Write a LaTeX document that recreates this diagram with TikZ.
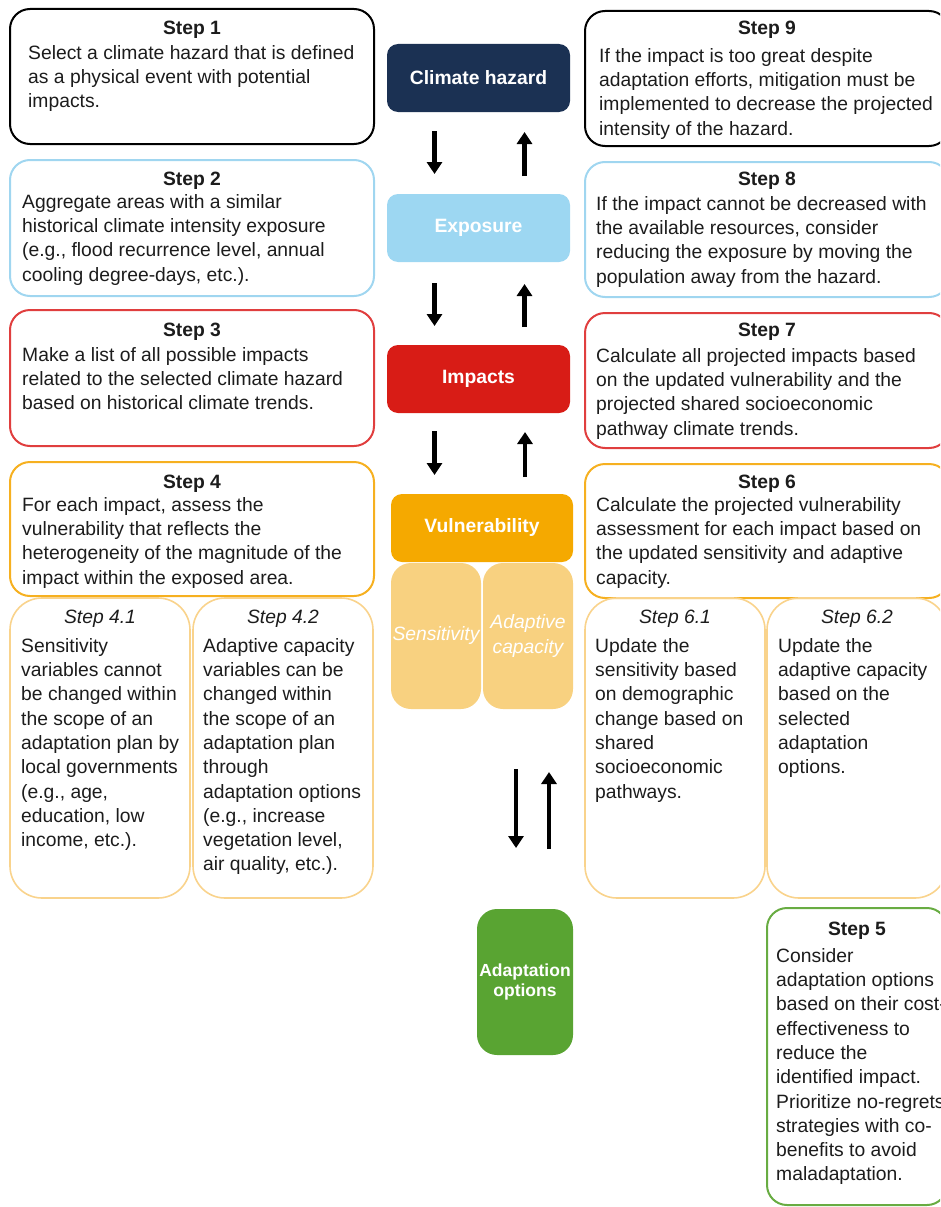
\documentclass[tikz,border=0pt]{standalone}
\usepackage{fontspec}
\setmainfont{Liberation Sans}
\usetikzlibrary{arrows.meta,calc}

\definecolor{hazardblue}{RGB}{27,49,83}
\definecolor{exposureblue}{RGB}{157,215,242}
\definecolor{impactred}{RGB}{216,28,22}
\definecolor{vulnorange}{RGB}{245,169,0}
\definecolor{capacityorange}{RGB}{248,209,128}
\definecolor{optiongreen}{RGB}{89,164,50}
\definecolor{bodytext}{RGB}{28,28,28}
\definecolor{edgeblue}{RGB}{160,214,240}
\definecolor{edgered}{RGB}{224,62,62}
\definecolor{edgeorange}{RGB}{246,176,32}
\definecolor{edgelight}{RGB}{249,211,140}
\definecolor{edgegreen}{RGB}{104,172,66}

\newcommand\bodysize{\fontsize{19.3}{24.3}\selectfont}

\tikzset{
	stepbox/.style={draw=#1, line width=2pt, rounded corners=20pt, anchor=north west, inner sep=0pt, outer sep=0pt},
	subbox/.style={draw=#1, line width=1.6pt, rounded corners=32pt, anchor=north west, inner sep=0pt, outer sep=0pt, minimum width=180pt, minimum height=300pt},
	steptitle/.style={anchor=base, inner sep=0pt, font=\bodysize\bfseries, text=bodytext},
	subtitle/.style={anchor=base, inner sep=0pt, font=\bodysize\itshape, text=bodytext},
	body/.style={anchor=north west, align=left, inner sep=0pt, font=\bodysize, text=bodytext},
	hub/.style={fill=#1, rounded corners=11pt, text=white, font=\bodysize\bfseries, inner sep=0pt, outer sep=0pt},
	part/.style={fill=capacityorange, rounded corners=20pt, text=white, font=\bodysize\itshape, align=center, inner sep=0pt, outer sep=0pt, minimum width=90pt, minimum height=146pt},
	flow/.style={line width=4.5pt, -{Triangle[width=15pt,length=12pt]}},
}

\begin{document}
\begin{tikzpicture}[x=1pt, y=-1pt]
	\useasboundingbox (0,0) rectangle (940,1207);
	\clip (0,0) rectangle (940,1207);
	
	\node[stepbox=black, minimum width=364pt, minimum height=135pt] (step1) at (10,9) {};
	\node[steptitle] (step1t) at (192,35) {Step 1};
	\node[body] (step1b) at (28,42) {\strut Select a climate hazard that is defined\\as a physical event with potential\\impacts.};
	
	\node[stepbox=edgeblue, minimum width=364pt, minimum height=136pt] (step2) at (10,160) {};
	\node[steptitle] (step2t) at (192,185) {Step 2};
	\node[body] (step2b) at (22,191) {\strut Aggregate areas with a similar\\historical climate intensity exposure\\(e.g., flood recurrence level, annual\\cooling degree-days, etc.).};
	
	\node[stepbox=edgered, minimum width=364pt, minimum height=136pt] (step3) at (10,310) {};
	\node[steptitle] (step3t) at (192,336) {Step 3};
	\node[body] (step3b) at (22,344) {\strut Make a list of all possible impacts\\related to the selected climate hazard\\based on historical climate trends.};
	
	\node[stepbox=edgeorange, minimum width=364pt, minimum height=134pt] (step4) at (10,462) {};
	\node[steptitle] (step4t) at (192,488) {Step 4};
	\node[body] (step4b) at (22,494) {\strut For each impact, assess the\\vulnerability that reflects the\\heterogeneity of the magnitude of the\\impact within the exposed area.};
	
	\node[subbox=edgelight] (step41) at (10,598) {};
	\node[subtitle] (step41t) at (100,623) {Step 4.1};
	\node[body] (step41b) at (21,635) {\strut Sensitivity\\variables cannot\\be changed within\\the scope of an\\adaptation plan by\\local governments\\(e.g., age,\\education, low\\income, etc.).};
	
	\node[subbox=edgelight] (step42) at (193,598) {};
	\node[subtitle] (step42t) at (283,623) {Step 4.2};
	\node[body] (step42b) at (203,635) {\strut Adaptive capacity\\variables can be\\changed within\\the scope of an\\adaptation plan\\through\\adaptation options\\(e.g., increase\\vegetation level,\\air quality, etc.).};
	
	\node[stepbox=black, minimum width=364pt, minimum height=135pt] (step9) at (585,11) {};
	\node[steptitle] (step9t) at (767,35) {Step 9};
	\node[body] (step9b) at (599,45) {\strut If the impact is too great despite\\adaptation efforts, mitigation must be\\implemented to decrease the projected\\intensity of the hazard.};
	
	\node[stepbox=edgeblue, minimum width=364pt, minimum height=135pt] (step8) at (585,162) {};
	\node[steptitle] (step8t) at (767,185) {Step 8};
	\node[body] (step8b) at (596,193) {\strut If the impact cannot be decreased with\\the available resources, consider\\reducing the exposure by moving the\\population away from the hazard.};
	
	\node[stepbox=edgered, minimum width=364pt, minimum height=135pt] (step7) at (585,313) {};
	\node[steptitle] (step7t) at (767,336) {Step 7};
	\node[body] (step7b) at (596,345) {\strut Calculate all projected impacts based\\on the updated vulnerability and the\\projected shared socioeconomic\\pathway climate trends.};
	
	\node[stepbox=edgeorange, minimum width=364pt, minimum height=134pt] (step6) at (585,464) {};
	\node[steptitle] (step6t) at (767,488) {Step 6};
	\node[body] (step6b) at (596,494) {\strut Calculate the projected vulnerability\\assessment for each impact based on\\the updated sensitivity and adaptive\\capacity.};
	
	\node[subbox=edgelight] (step61) at (585,598) {};
	\node[subtitle] (step61t) at (675,623) {Step 6.1};
	\node[body] (step61b) at (595,635) {\strut Update the\\sensitivity based\\on demographic\\change based on\\shared\\socioeconomic\\pathways.};
	
	\node[subbox=edgelight] (step62) at (767,598) {};
	\node[subtitle] (step62t) at (857,623) {Step 6.2};
	\node[body] (step62b) at (778,635) {\strut Update the\\adaptive capacity\\based on the\\selected\\adaptation\\options.};
	
	\node[stepbox=edgegreen, minimum width=180pt, minimum height=297pt] (step5) at (767,908) {};
	\node[steptitle] (step5t) at (857,935) {Step 5};
	\node[body] (step5b) at (776,945) {\strut Consider\\adaptation options\\based on their cost-\\effectiveness to\\reduce the\\identified impact.\\Prioritize no-regrets\\strategies with co-\\benefits to avoid\\maladaptation.};
	
	\node[hub=hazardblue, minimum width=183pt, minimum height=68pt] (hazard) at (478.5,78) {Climate hazard};
	\node[hub=exposureblue, minimum width=183pt, minimum height=68pt] (exposure) at (478.5,228) {Exposure};
	\node[hub=impactred, minimum width=183pt, minimum height=68pt] (impacts) at (478.5,379) {Impacts};
	\node[part] (sensitivity) at (436,636) {Sensitivity};
	\node[part] (capacity) at (528,636) {Adaptive\\capacity};
	\node[hub=vulnorange, minimum width=182pt, minimum height=68pt] (vuln) at (482,528) {Vulnerability};
	\node[hub=optiongreen, rounded corners=20pt, minimum width=96pt, minimum height=146pt, align=center, font=\fontsize{17.5}{20.5}\selectfont\bfseries] (options) at (525,982) {Adaptation\\options};
	
	\draw[flow] ($(hazard.south)+(-44,19)$) -- ($(exposure.north)+(-44,-20)$);
	\draw[flow] ($(exposure.north)+(46,-18)$) -- ($(hazard.south)+(46,20)$);
	\draw[flow] ($(exposure.south)+(-44,21)$) -- ($(impacts.north)+(-44,-19)$);
	\draw[flow] ($(impacts.north)+(46,-18)$) -- ($(exposure.south)+(46,22)$);
	\draw[flow] ($(impacts.south)+(-44,18)$) -- ($(vuln.north)+(-47.5,-19)$);
	\draw[flow] ($(vuln.north)+(43,-17)$) -- ($(impacts.south)+(46.5,19)$);
	\draw[flow] ($(capacity.south)+(-12,60)$) -- ($(options.north)+(-9,-61)$);
	\draw[flow] ($(options.north)+(24,-60)$) -- ($(capacity.south)+(21,63)$);
\end{tikzpicture}
\end{document}
